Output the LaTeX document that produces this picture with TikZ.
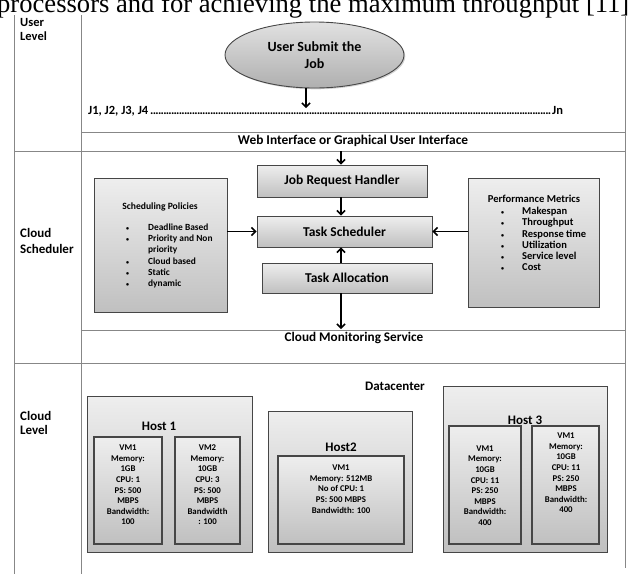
\documentclass[tikz,border=0pt]{standalone}
\usepackage{fontspec}
\setmainfont{Carlito}
\newfontfamily\serifcap{Liberation Serif}
\usetikzlibrary{arrows.meta,shadows,shapes.geometric}
\definecolor{tl}{RGB}{135,135,135}
\definecolor{bd}{RGB}{70,70,70}
\definecolor{ftop}{RGB}{238,238,238}
\definecolor{fbot}{RGB}{192,192,192}
\definecolor{etop}{RGB}{225,225,225}
\definecolor{ebot}{RGB}{175,175,175}
\newcommand{\smbul}{{\fontsize{6}{6}\selectfont•}}
\begin{document}
\begin{tikzpicture}[x=1pt,y=-1pt,
  tline/.style={draw=tl,line width=0.9pt},
  gbox/.style={draw=bd,line width=0.9pt,top color=ftop,bottom color=fbot,
    drop shadow={shadow xshift=1.3pt,shadow yshift=-1.3pt,opacity=0.35},
    inner sep=0pt,rectangle},
  vmbox/.style={gbox,line width=1.1pt},
  arr/.style={line width=1.5pt,-{Straight Barb[length=4pt,width=8pt,line width=1.5pt]}},
  lbl/.style={font=\bfseries\fontsize{#1}{#1}\selectfont,inner sep=0pt},
  vmtxt/.style={font=\bfseries\fontsize{8.8}{10.6}\selectfont,align=center,inner sep=0pt},
  rowlbl/.style={align=left,inner sep=0pt,anchor=west}
]
\useasboundingbox (0,0) rectangle (630,574);
% top clipped text
\node[anchor=base west,inner sep=0pt,font=\serifcap\fontsize{26.6}{30}\selectfont] (toptext) at (-3,12) {processors and for achieving the maximum throughput [11]};
% table lines
\draw[tline] (14,15) -- (14,574);
\draw[tline] (81,15) -- (81,574);
\draw[tline] (625,15) -- (625,568);
\draw[tline] (81,132) -- (625,132);
\draw[tline] (14,151) -- (625,151);
\draw[tline] (81,330) -- (625,330);
\draw[tline] (14,363) -- (625,363);
% row labels
\node[rowlbl,font=\bfseries\fontsize{12.5}{14}\selectfont] (ulevel) at (20,29) {User\\Level};
\node[rowlbl,font=\bfseries\fontsize{13}{16}\selectfont] (csched) at (20,241) {Cloud\\Scheduler};
\node[rowlbl,font=\bfseries\fontsize{13}{14.5}\selectfont] (clevel) at (20,423) {Cloud\\Level};
% user level
\node[ellipse,draw=bd,line width=0.9pt,top color=etop,bottom color=ebot,
  drop shadow={shadow xshift=1.3pt,shadow yshift=-1.3pt,opacity=0.35},
  minimum width=179pt,minimum height=66pt,inner sep=0pt,align=center,
  font=\bfseries\fontsize{14}{16.5}\selectfont] (ell) at (314.5,55) {User Submit the\\Job};
\coordinate (jtip) at (306,108);
\draw[arr] (ell.south -| jtip) -- (jtip);
\node[anchor=west,inner sep=0pt,font=\bfseries\fontsize{12.5}{14}\selectfont] (jobs) at (88,111)
  {\makebox[475pt][s]{J1, J2, J3, J4\leaders\hbox to 2.6pt{\hss.\hss}\hfill Jn}};
\node[lbl=13.4] (wi) at (353,141) {Web Interface or Graphical User Interface};
% cloud scheduler
\node[gbox,minimum width=170pt,minimum height=32pt,font=\bfseries\fontsize{13.5}{13.5}\selectfont] (jrh) at (342,181) {Job Request Handler};
\node[gbox,minimum width=175pt,minimum height=31pt,font=\bfseries\fontsize{13.5}{13.5}\selectfont] (ts) at (344.5,231.5) {Task Scheduler};
\node[gbox,minimum width=170pt,minimum height=30pt,font=\bfseries\fontsize{13.5}{13.5}\selectfont] (ta) at (347,278) {Task Allocation};
\node[gbox,minimum width=133pt,minimum height=134pt] (sp) at (160.5,245) {};
\node[gbox,minimum width=131pt,minimum height=129pt] (pm) at (533.5,242.5) {};
\node[lbl=9.6] (sptitle) at (160,207) {Scheduling Policies};
\node[rowlbl,font=\bfseries\fontsize{9.4}{11.2}\selectfont] (splist) at (126,256)
  {\makebox[22pt][l]{\smbul}Deadline Based\\
   \makebox[22pt][l]{\smbul}Priority and Non\\
   \hspace*{22pt}priority\\
   \makebox[22pt][l]{\smbul}Cloud based\\
   \makebox[22pt][l]{\smbul}Static\\
   \makebox[22pt][l]{\smbul}dynamic};
\node[lbl=10.6] (pmtitle) at (534,199) {Performance Metrics};
\node[rowlbl,font=\bfseries\fontsize{10.5}{11.2}\selectfont] (pmlist) at (501,239)
  {\makebox[21pt][l]{\smbul}Makespan\\
   \makebox[21pt][l]{\smbul}Throughput\\
   \makebox[21pt][l]{\smbul}Response time\\
   \makebox[21pt][l]{\smbul}Utilization\\
   \makebox[21pt][l]{\smbul}Service level\\
   \makebox[21pt][l]{\smbul}Cost};
\coordinate (axis) at (341,0);
\coordinate (wiline) at (341,151);
\coordinate (cmsline) at (341,329);
\draw[arr] (wiline) -- (jrh.north -| axis);
\draw[arr] (jrh.south -| axis) -- (ts.north -| axis);
\draw[arr] (ta.north -| axis) -- (ts.south -| axis);
\draw[arr] (ta.south -| axis) -- (cmsline);
\draw[arr] (sp.east |- ts.west) -- (ts.west);
\draw[arr] (pm.west |- ts.east) -- (ts.east);
\node[lbl=13.2] (cms) at (354,338) {Cloud Monitoring Service};
% cloud level
\node[lbl=13] (dc) at (395,386) {Datacenter};
\node[gbox,minimum width=165pt,minimum height=156pt] (host1) at (169.5,474) {};
\node[gbox,minimum width=144pt,minimum height=141pt] (host2) at (340,481.5) {};
\node[gbox,minimum width=164pt,minimum height=166pt] (host3) at (525,469) {};
\node[lbl=13] (h1lbl) at (159,426) {Host 1};
\node[lbl=13] (h2lbl) at (341,447) {Host2};
\node[lbl=13] (h3lbl) at (525,420) {Host 3};
\node[vmbox,minimum width=68pt,minimum height=107pt] (h1vm1) at (128,490.5) {};
\node[vmbox,minimum width=65pt,minimum height=107pt] (h1vm2) at (207.5,490.5) {};
\node[vmbox,minimum width=126pt,minimum height=88pt] (h2vm) at (341,500) {};
\node[vmbox,minimum width=72pt,minimum height=118pt] (h3vma) at (485,485) {};
\node[vmbox,minimum width=67pt,minimum height=118pt] (h3vmb) at (565.5,485) {};
\node[vmtxt] (t11) at (128,485) {VM1\\Memory:\\1GB\\CPU: 1\\PS: 500\\MBPS\\Bandwidth:\\100};
\node[vmtxt] (t12) at (207.5,485) {VM2\\Memory:\\10GB\\CPU: 3\\PS: 500\\MBPS\\Bandwidth\\: 100};
\node[vmtxt] (t2) at (341,489) {VM1\\Memory: 512MB\\No of CPU: 1\\PS: 500 MBPS\\Bandwidth: 100};
\node[vmtxt] (t3a) at (485,485.5) {VM1\\Memory:\\10GB\\CPU: 11\\PS: 250\\MBPS\\Bandwidth:\\400};
\node[vmtxt] (t3b) at (566,473) {VM1\\Memory:\\10GB\\CPU: 11\\PS: 250\\MBPS\\Bandwidth:\\400};
\end{tikzpicture}
\end{document}
